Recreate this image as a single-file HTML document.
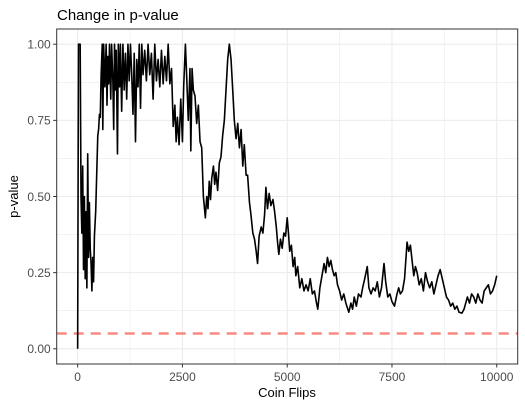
<!DOCTYPE html>
<html><head><meta charset="utf-8"><style>
html,body{margin:0;padding:0;background:#fff;}
svg{display:block;font-family:"Liberation Sans",Arial,sans-serif;}
</style></head><body>
<svg id="chart" width="525" height="408" viewBox="0 0 525 408">
<text x="57" y="20" font-size="15" fill="#000">Change in p-value</text>
<g id="grid"></g>
<line id="thr" stroke="#F8766D" stroke-opacity="0.85" stroke-width="2.5" stroke-dasharray="10,7"></line>
<path id="line" fill="none" stroke="#000" stroke-width="1.6" stroke-linejoin="round"></path>
<rect x="56.7" y="29" width="461" height="335" fill="none" stroke="#333" stroke-width="1"></rect>
<g id="axes"></g>
<text x="287" y="397" font-size="13" text-anchor="middle" fill="#000">Coin Flips</text>
<text transform="translate(18,196.5) rotate(-90)" font-size="13" text-anchor="middle" fill="#000">p-value</text>
</svg>
<script>
const xTicks = [0, 2500, 5000, 7500, 10000];
const xTickLabels = ["0", "2500", "5000", "7500", "10000"];
const yTicks = [0, 0.25, 0.5, 0.75, 1];
const yTickLabels = ["0.00", "0.25", "0.50", "0.75", "1.00"];
const threshold = 0.05;
const flips = [0,20,60,80,100,120,140,160,180,200,220,240,260,280,300,320,340,360,380,400,430,460,480,500,520,540,560,587,600,620,650,680,700,720,740,760,790,810,840,860,880,900,920,950,970,1000,1020,1050,1080,1110,1140,1170,1200,1230,1260,1290,1320,1350,1380,1410,1440,1470,1500,1530,1560,1600,1640,1680,1720,1760,1800,1840,1880,1920,1960,2000,2040,2080,2120,2160,2200,2240,2280,2320,2350,2380,2420,2460,2500,2530,2571,2600,2640,2680,2700,2730,2760,2800,2840,2880,2920,2960,3000,3047,3080,3110,3140,3170,3200,3240,3270,3300,3340,3380,3420,3460,3500,3540,3580,3619,3660,3700,3738,3780,3820,3860,3900,3940,3976,4020,4055,4100,4135,4180,4220,4260,4293,4330,4380,4420,4460,4492,4530,4570,4610,4660,4700,4740,4770,4800,4840,4880,4920,4960,5000,5030,5060,5100,5140,5180,5206,5250,5300,5350,5400,5450,5500,5550,5600,5650,5700,5730,5780,5830,5880,5920,5960,6000,6040,6080,6120,6160,6200,6250,6300,6350,6400,6470,6520,6560,6600,6650,6700,6760,6800,6850,6910,6950,7000,7050,7100,7150,7200,7250,7310,7350,7400,7450,7500,7560,7620,7660,7700,7750,7800,7860,7900,7940,7980,8020,8060,8100,8150,8200,8250,8300,8350,8400,8450,8500,8550,8600,8650,8700,8750,8800,8850,8900,8950,9000,9050,9100,9170,9220,9260,9300,9350,9400,9450,9500,9550,9600,9650,9700,9750,9800,9850,9900,9950,10000];
const pvalues = [0,1,1,0.5,0.38,0.6,0.26,0.5,0.23,0.45,0.2,0.64,0.3,0.48,0.33,0.28,0.19,0.3,0.22,0.37,0.45,0.6,0.7,0.72,0.77,0.76,0.9,1,0.72,1,0.86,1,0.8,0.96,0.87,1,0.82,1,0.88,0.72,1,0.85,0.98,0.64,1,0.86,1,0.78,1,0.85,0.97,0.82,1,0.88,1,0.9,0.77,0.97,0.68,0.95,0.86,1,0.79,1,0.9,0.98,0.88,1,0.9,0.97,0.82,1,0.88,0.95,0.86,0.98,0.87,0.96,0.88,1,0.87,0.92,0.73,0.8,0.68,0.76,0.67,0.82,0.68,0.86,1,0.9,0.75,0.92,0.65,0.92,0.85,0.83,0.74,0.8,0.68,0.66,0.5,0.43,0.5,0.46,0.55,0.49,0.56,0.6,0.54,0.58,0.52,0.61,0.63,0.7,0.75,0.85,0.95,1,0.95,0.85,0.75,0.69,0.74,0.66,0.72,0.6,0.67,0.57,0.57,0.48,0.44,0.38,0.36,0.32,0.28,0.37,0.4,0.38,0.44,0.53,0.46,0.51,0.47,0.49,0.45,0.4,0.35,0.31,0.36,0.33,0.38,0.37,0.43,0.38,0.32,0.34,0.27,0.3,0.24,0.27,0.2,0.23,0.19,0.21,0.19,0.23,0.18,0.19,0.15,0.13,0.2,0.24,0.28,0.25,0.3,0.27,0.29,0.26,0.24,0.25,0.21,0.19,0.16,0.18,0.15,0.12,0.15,0.13,0.17,0.14,0.18,0.17,0.2,0.23,0.27,0.2,0.18,0.2,0.19,0.22,0.17,0.2,0.28,0.22,0.17,0.18,0.155,0.14,0.18,0.2,0.18,0.19,0.23,0.35,0.32,0.34,0.29,0.24,0.27,0.25,0.21,0.23,0.19,0.25,0.22,0.2,0.22,0.18,0.21,0.24,0.26,0.23,0.2,0.17,0.16,0.14,0.15,0.13,0.14,0.12,0.117,0.13,0.15,0.17,0.15,0.18,0.17,0.15,0.18,0.16,0.15,0.19,0.2,0.21,0.18,0.19,0.21,0.24];

const L = 56.7, R = 517.7, T = 29, B = 364;
const xMin = -500, xMax = 10500, yMin = -0.05, yMax = 1.05;
function sx(v){ return L + (v - xMin) / (xMax - xMin) * (R - L); }
function sy(v){ return B - (v - yMin) / (yMax - yMin) * (B - T); }
const NS = "http://www.w3.org/2000/svg";
const grid = document.getElementById('grid');
const axes = document.getElementById('axes');
function mk(tag, attrs, parent){ const e = document.createElementNS(NS, tag); for (const k in attrs) e.setAttribute(k, attrs[k]); parent.appendChild(e); return e; }

for (let i = 0; i < xTicks.length - 1; i++) {
  const v = (xTicks[i] + xTicks[i+1]) / 2;
  const g = mk('line', {x1: sx(v), x2: sx(v), y1: T, y2: B, stroke: '#ebebeb', 'stroke-width': 0.6}, grid);
  
  
}
for (let i = 0; i < yTicks.length - 1; i++) {
  const v = (yTicks[i] + yTicks[i+1]) / 2;
  const g = mk('line', {x1: L, x2: R, y1: sy(v), y2: sy(v), stroke: '#ebebeb', 'stroke-width': 0.6}, grid);
  
  
}
xTicks.forEach((v, i) => {
  const g = mk('line', {x1: sx(v), x2: sx(v), y1: T, y2: B, stroke: '#ebebeb', 'stroke-width': 1.1}, grid);
  
  
  const t = mk('line', {x1: sx(v), x2: sx(v), y1: B, y2: B + 3.5, stroke: '#333', 'stroke-width': 1}, axes);
  
  
  const lb = mk('text', {x: sx(v), y: B + 17, 'font-size': 12, 'text-anchor': 'middle', fill: '#4d4d4d'}, axes);
  lb.textContent = xTickLabels[i];
  
  
});
yTicks.forEach((v, i) => {
  const g = mk('line', {x1: L, x2: R, y1: sy(v), y2: sy(v), stroke: '#ebebeb', 'stroke-width': 1.1}, grid);
  
  
  const t = mk('line', {x1: L - 3.5, x2: L, y1: sy(v), y2: sy(v), stroke: '#333', 'stroke-width': 1}, axes);
  
  
  const lb = mk('text', {x: L - 6, y: sy(v) + 4.3, 'font-size': 12, 'text-anchor': 'end', fill: '#4d4d4d'}, axes);
  lb.textContent = yTickLabels[i];
  
  
});

const thr = document.getElementById('thr');
thr.setAttribute('x1', L); thr.setAttribute('x2', R);
thr.setAttribute('y1', sy(threshold)); thr.setAttribute('y2', sy(threshold));

let d = '';
flips.forEach((n, i) => { d += (i ? 'L' : 'M') + sx(n).toFixed(2) + ',' + sy(pvalues[i]).toFixed(2); });
document.getElementById('line').setAttribute('d', d);
</script>
</body></html>
